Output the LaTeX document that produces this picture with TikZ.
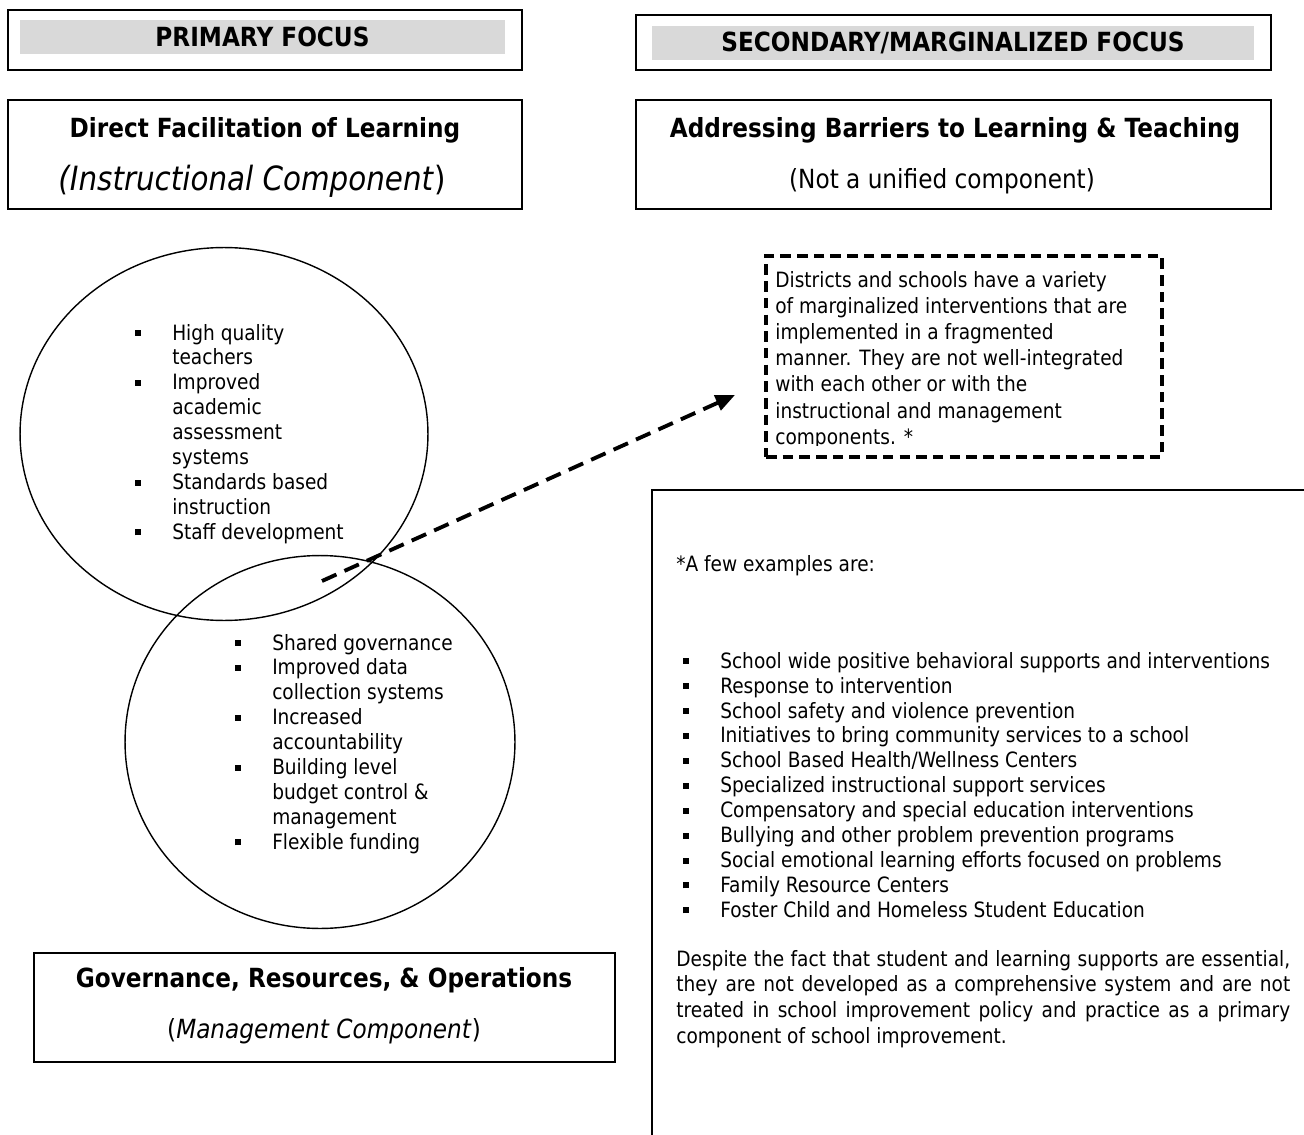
\documentclass[tikz,border=0pt]{standalone}
\usepackage{fontspec}
\setmainfont{DejaVu Sans}[FakeStretch=0.88]
\usetikzlibrary{positioning,fit,shapes.geometric,arrows.meta}
\newcommand{\sqb}{\makebox[21pt][l]{\rule[0.2em]{3.4pt}{3.4pt}}}
\newcommand{\indt}{\hspace*{21pt}}

\begin{document}
\begin{tikzpicture}[x=0.02cm,y=-0.02cm,
box/.style={draw,line width=0.9pt,inner sep=0pt},
bar/.style={fill=gray!30,inner sep=0pt},
head/.style={font=\fontsize{15}{18}\selectfont\bfseries},
sub/.style={font=\fontsize{15}{18}\selectfont},
blob/.style={draw,ellipse,line width=0.8pt,inner sep=0pt},
items/.style={align=left,anchor=west,inner sep=0pt,font=\fontsize{12}{14.2}\selectfont},
note/.style={draw,line width=2pt,dash pattern=on 6pt off 3.5pt,inner sep=0pt},
arrline/.style={line width=2.2pt,dash pattern=on 9pt off 5pt,-{Triangle[length=11pt,width=9pt]}}]
\useasboundingbox (0,0) rectangle (1304,1135);

% focus headers
\node (pribox) [box,fit={(8,10) (522,70)}] {};
\node (pribar) [bar,fit={(20,20) (505,54)}] {};
\node (prihd) at (pribar) [head] {PRIMARY FOCUS};
\node (secbox) [box,fit={(636,15) (1271,70)}] {};
\node (secbar) [bar,fit={(652,26) (1254,60)}] {};
\node (sechd) at (secbar) [head] {SECONDARY/MARGINALIZED FOCUS};

% components
\node (dirbox) [box,fit={(8,100) (522,209)}] {};
\node (dirhd) at (265,130) [head] {Direct Facilitation of Learning};
\node (dirsub) at (252,181) [font=\fontsize{19}{22}\selectfont] {\textit{(Instructional Component})};
\node (barbox) [box,fit={(636,100) (1271,209)}] {};
\node (barhd) at (955,130) [head] {Addressing Barriers to Learning \& Teaching};
\node (barsub) at (942,181) [sub] {(Not a unified component)};

\node (instr) [blob,minimum width=8.16cm,minimum height=7.46cm] at (224,434) {};
\node (mgmt) [blob,minimum width=7.8cm,minimum height=7.46cm] at (320,742) {};

\node (instlist) [items] at (135,434) {\sqb High quality\\ \indt teachers\\ \sqb Improved\\ \indt academic\\ \indt assessment\\ \indt systems\\ \sqb Standards based\\ \indt instruction\\ \sqb Staff development};
\node (mgmtlist) [items] at (235,744) {\sqb Shared governance\\ \sqb Improved data\\ \indt collection systems\\ \sqb Increased\\ \indt accountability\\ \sqb Building level\\ \indt budget control \&\\ \indt management\\ \sqb Flexible funding};

\node (govbox) [box,fit={(34,953) (615,1062)}] {};
\node (govhd) at (324,980) [head] {Governance, Resources, \& Operations};
\node (govsub) at (324,1031) [sub] {(\textit{Management Component})};

% marginalized note
\node (note) [note,fit={(766,256) (1162,457)}] {};
\begin{scope}
\clip (766,256) rectangle (1162,445);
\node (notetxt) [items,font=\fontsize{12}{14.9}\selectfont] at (775,360) {Districts and schools have a variety\\ of marginalized interventions that are\\ implemented in a fragmented\\ manner. They are not well-integrated\\ with each other or with the\\ instructional and management\\ components. *};
\end{scope}
\coordinate (arrtail) at (322,581);
\coordinate (arrtip) at (735,395);
\draw [arrline] (arrtail) -- (arrtip);

% examples panel
\draw [line width=0.9pt] (1304,490) -- (652,490) -- (652,1135);
\node (exhd) [items] at (676,566) {*A few examples are:};
\node (exlist) [items] at (683,785) {\sqb School wide positive behavioral supports and interventions\\ \sqb Response to intervention\\ \sqb School safety and violence prevention\\ \sqb Initiatives to bring community services to a school\\ \sqb School Based Health/Wellness Centers\\ \sqb Specialized instructional support services\\ \sqb Compensatory and special education interventions\\ \sqb Bullying and other problem prevention programs\\ \sqb Social emotional learning efforts focused on problems\\ \sqb Family Resource Centers\\ \sqb Foster Child and Homeless Student Education};
\node (despite) [anchor=west,inner sep=0pt,text width=12.28cm,align=justify,font=\fontsize{12}{14.7}\selectfont] at (676,999) {Despite the fact that student and learning supports are essential,\linebreak they are not developed as a comprehensive system and are not\linebreak treated in school improvement policy and practice as a primary\linebreak component of school improvement.};
\end{tikzpicture}
\end{document}
